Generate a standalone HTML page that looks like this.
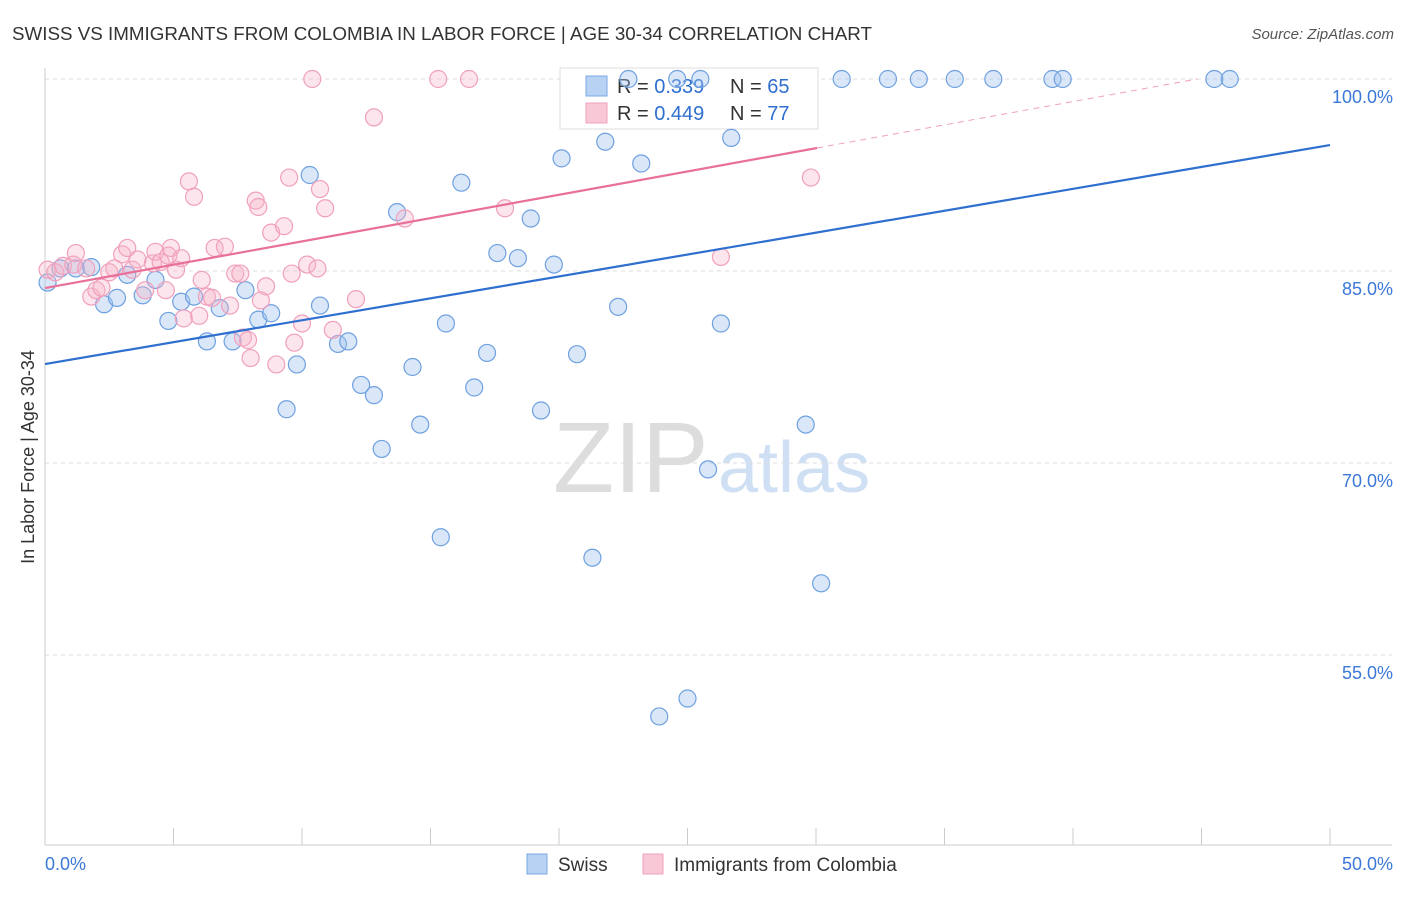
<!DOCTYPE html>
<html><head><meta charset="utf-8"><style>
body{margin:0;background:#fff;font-family:"Liberation Sans",sans-serif}
svg text{font-family:"Liberation Sans",sans-serif}
</style></head><body>
<svg id="chart" width="1406" height="892">
<text x="12" y="40" font-size="18.8" fill="#333">SWISS VS IMMIGRANTS FROM COLOMBIA IN LABOR FORCE | AGE 30-34 CORRELATION CHART</text>
<text x="1394" y="39" font-size="15" fill="#555" text-anchor="end" font-style="italic">Source: ZipAtlas.com</text>
<text x="0" y="0" transform="translate(34,457) rotate(-90)" font-size="18" fill="#333" text-anchor="middle">In Labor Force | Age 30-34</text>
<g><text x="553" y="492" font-size="100" fill="#ddd" font-family="Liberation Serif">ZIP</text><text x="718" y="492" font-size="72" fill="#cfe0f4">atlas</text></g>
<g id="grid"></g><g id="axes"></g>
<g>
<rect x="560" y="68" width="258" height="61" fill="#fff" stroke="#ddd"/>
<rect x="586" y="76" width="21" height="20" fill="#b8d2f4" stroke="#7aa8e4"/>
<rect x="586" y="103" width="21" height="20" fill="#f9c8d6" stroke="#f0a0bc"/>
<text x="617" y="93" font-size="20" fill="#333">R = <tspan fill="#2f6fd0">0.339</tspan></text>
<text x="730" y="93" font-size="20" fill="#333">N = <tspan fill="#2f6fd0">65</tspan></text>
<text x="617" y="120" font-size="20" fill="#333">R = <tspan fill="#2f6fd0">0.449</tspan></text>
<text x="730" y="120" font-size="20" fill="#333">N = <tspan fill="#2f6fd0">77</tspan></text>
</g>
<g id="pts"></g><g id="lines"></g>
<g>
<rect x="527" y="854" width="20" height="20" fill="#b8d2f4" stroke="#7aa8e4"/>
<text x="558" y="871" font-size="19" fill="#333">Swiss</text>
<rect x="643" y="854" width="20" height="20" fill="#f9c8d6" stroke="#f0a0bc"/>
<text x="674" y="871" font-size="19" fill="#333">Immigrants from Colombia</text>
</g>
</svg>
<script>
const yTicks=[100,85,70,55];
const yTickLabels=["100.0%","85.0%","70.0%","55.0%"];
const swissX=[0.1,0.6,1.2,1.8,2.3,2.8,3.2,3.8,4.3,4.8,5.3,5.8,6.3,6.8,7.3,7.8,8.3,8.8,9.4,9.8,10.3,10.7,11.4,11.8,12.3,12.8,13.1,13.7,14.3,14.6,15.4,15.6,16.2,16.7,17.2,17.6,18.4,18.9,19.3,19.8,20.1,20.7,21.3,21.8,22.3,22.7,23.2,23.9,24.6,25.0,25.5,25.8,26.3,26.7,29.6,30.2,31.0,32.8,34.0,35.4,36.9,39.2,39.6,45.5,46.1];
const swissY=[84.1,85.2,85.2,85.3,82.4,82.9,84.7,83.1,84.3,81.1,82.6,83.0,79.5,82.1,79.5,83.5,81.2,81.7,74.2,77.7,92.5,82.3,79.3,79.5,76.1,75.3,71.1,89.6,77.5,73.0,64.2,80.9,91.9,75.9,78.6,86.4,86.0,89.1,74.1,85.5,93.8,78.5,62.6,95.1,82.2,100,93.4,50.2,100,51.6,100,69.5,80.9,95.4,73.0,60.6,100,100,100,100,100,100,100,100,100];
const colX=[0.1,0.4,0.7,1.1,1.2,1.6,1.8,2.0,2.2,2.5,2.7,3.0,3.2,3.4,3.6,3.9,4.2,4.3,4.5,4.7,4.8,4.9,5.1,5.3,5.4,5.6,5.8,6.0,6.1,6.3,6.5,6.6,7.0,7.2,7.4,7.6,7.7,7.9,8.0,8.2,8.3,8.4,8.6,8.8,9.0,9.3,9.5,9.6,9.7,10.0,10.2,10.4,10.6,10.7,10.9,11.2,12.1,12.8,14.0,15.3,16.5,17.9,26.3,29.8];
const colY=[85.1,84.9,85.4,85.5,86.4,85.2,83.0,83.5,83.7,84.9,85.2,86.3,86.8,85.1,85.9,83.5,85.6,86.5,85.7,83.5,86.2,86.8,85.1,86.0,81.3,92.0,90.8,81.5,84.3,83.0,82.9,86.8,86.9,82.3,84.8,84.8,79.8,79.6,78.2,90.5,90.0,82.7,83.8,88.0,77.7,88.5,92.3,84.8,79.4,80.9,85.5,100,85.2,91.4,89.9,80.4,82.8,97.0,89.1,100,100,89.9,86.1,92.3];
const swissFit=[77.73,94.84]; // at x=0 and x=50
const colFit=[83.67,94.61,30.04]; // y at 0, y at end, end x
const NS="http://www.w3.org/2000/svg";
const X=v=>45+v*25.7, Y=v=>79+(100-v)*12.8;
function mk(t,a,p){const e=document.createElementNS(NS,t);for(const k in a)e.setAttribute(k,a[k]);p.appendChild(e);return e;}
const grid=document.getElementById('grid'),axes=document.getElementById('axes'),pts=document.getElementById('pts'),lines=document.getElementById('lines');
yTicks.forEach((t,i)=>{
 const g=mk('line',{x1:45,x2:1392,y1:Y(t),y2:Y(t),stroke:'#ddd','stroke-dasharray':'4 4'},grid);
 
 
 const l=mk('text',{x:1393,y:Y(t)+24,'font-size':18,fill:'#3b78d8','text-anchor':'end'},grid);
 l.textContent=yTickLabels[i];
 
 
});
mk('line',{x1:45,x2:45,y1:68,y2:845,stroke:'#ccc'},axes);
mk('line',{x1:45,x2:1392,y1:845,y2:845,stroke:'#ccc'},axes);
for(let i=0;i<=10;i++){const tk=mk('line',{x1:X(i*5),x2:X(i*5),y1:828,y2:845,stroke:'#ccc'},axes);
 
 }
const x0=mk('text',{x:45,y:870,'font-size':18,fill:'#3b78d8'},axes);x0.textContent='0.0%';


const x1=mk('text',{x:1393,y:870,'font-size':18,fill:'#3b78d8','text-anchor':'end'},axes);x1.textContent='50.0%';


swissX.forEach((v,i)=>{const c=mk('circle',{cx:X(v),cy:Y(swissY[i]),r:8.5,fill:'rgba(160,195,240,0.4)',stroke:'#6fa0e0','stroke-width':1.2},pts);
 
 });
colX.forEach((v,i)=>{const c=mk('circle',{cx:X(v),cy:Y(colY[i]),r:8.5,fill:'rgba(245,180,200,0.35)',stroke:'#f0a0bc','stroke-width':1.2},pts);
 
 });
const sl=mk('line',{x1:X(0),y1:Y(swissFit[0]),x2:X(50),y2:Y(swissFit[1]),stroke:'#2f6fd0','stroke-width':2.2},lines);


const slope=(colFit[1]-colFit[0])/colFit[2], xe=(100-colFit[0])/slope;
const cl=mk('line',{x1:X(0),y1:Y(colFit[0]),x2:X(colFit[2]),y2:Y(colFit[1]),stroke:'#e8709a','stroke-width':2.2},lines);


const cd=mk('line',{x1:X(colFit[2]),y1:Y(colFit[1]),x2:X(xe),y2:Y(100),stroke:'#f0a0bc','stroke-width':1,'stroke-dasharray':'6 5'},lines);


</script>
</body></html>
